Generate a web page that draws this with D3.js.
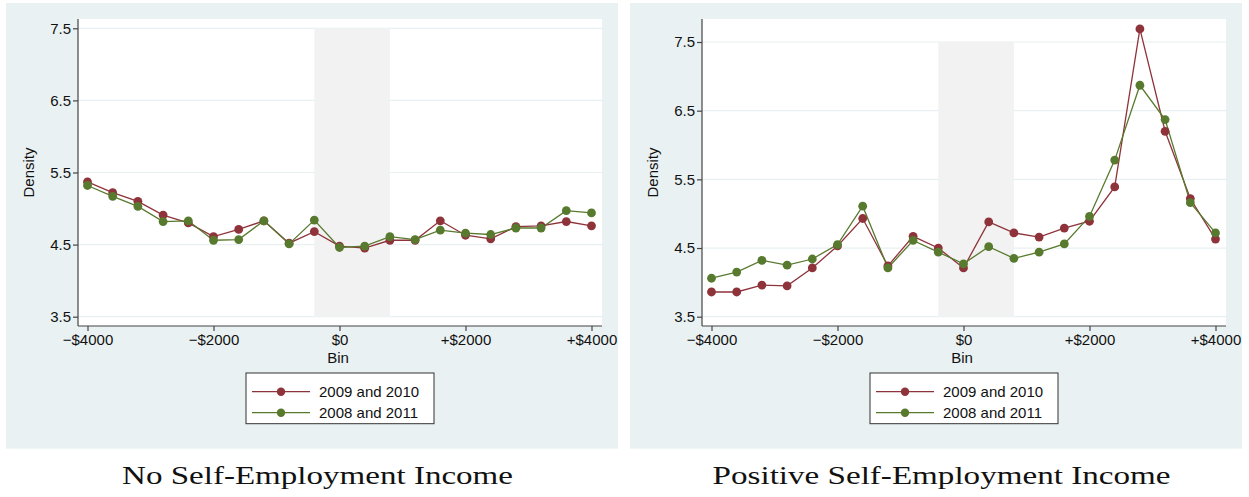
<!DOCTYPE html>
<html>
<head>
<meta charset="utf-8">
<script src="https://cdn.jsdelivr.net/npm/d3@7"></script>
<style>
  body { margin: 0; background: #fff; }
  svg text { font-family: "Liberation Sans", Arial, sans-serif; fill: #111; }
  .caption { font-family: "Liberation Serif", "DejaVu Serif", serif; }
</style>
</head>
<body>
<div id="chart"></div>
<script>
// bins, in dollars
const bins = [-4000, -3600, -3200, -2800, -2400, -2000, -1600, -1200, -800, -400,
  0, 400, 800, 1200, 1600, 2000, 2400, 2800, 3200, 3600, 4000];

const xTicks = [-4000, -2000, 0, 2000, 4000];
const xTickLabels = ['\u2212$4000', '\u2212$2000', '$0', '+$2000', '+$4000'];
const yTicks = [3.5, 4.5, 5.5, 6.5, 7.5];

// excluded window around zero
const shadeRange = [-400, 800];

const seriesNames = ['2009 and 2010', '2008 and 2011'];
const seriesColors = ['#8f333b', '#587a2e'];

// no self-employment income
const noSeTreat = [5.37, 5.22, 5.10, 4.91, 4.80, 4.61, 4.71, 4.83, 4.52, 4.68,
  4.48, 4.45, 4.56, 4.56, 4.83, 4.63, 4.58, 4.75, 4.76, 4.82, 4.76];
const noSeControl = [5.32, 5.17, 5.03, 4.82, 4.83, 4.56, 4.57, 4.83, 4.51, 4.84,
  4.46, 4.48, 4.61, 4.57, 4.70, 4.66, 4.64, 4.73, 4.73, 4.97, 4.94];

// positive self-employment income
const posSeTreat = [3.86, 3.86, 3.96, 3.95, 4.21, 4.53, 4.93, 4.24, 4.67, 4.50,
  4.21, 4.88, 4.72, 4.66, 4.79, 4.89, 5.39, 7.69, 6.20, 5.22, 4.63];
const posSeControl = [4.06, 4.15, 4.32, 4.25, 4.34, 4.55, 5.11, 4.21, 4.61, 4.44,
  4.27, 4.52, 4.35, 4.44, 4.56, 4.96, 5.78, 6.87, 6.37, 5.16, 4.72];

const captions = ['No Self-Employment Income', 'Positive Self-Employment Income'];

const W = 1249;
const H = 497;
const fontSize = '15px';

const panels = [
  {
    left: 6, caption: captions[0], captionWidth: 391,
    series: [noSeTreat, noSeControl], yTop: 28.3, yBottom: 316.7,
  },
  {
    left: 630, caption: captions[1], captionWidth: 458,
    series: [posSeTreat, posSeControl], yTop: 42, yBottom: 316.7,
  },
];

const panelW = 612;
const panelTop = 3;
const panelH = 445.7;
const plot = { left: 72, right: 596, top: 16, bottom: 323 }; // relative to panel

const svg = d3.select('#chart')
  .append('svg')
  .attr('width', W)
  .attr('height', H);

function drawPanel(p) {
  const g = svg.append('g')
    .attr('transform', `translate(${p.left},${panelTop})`);

  // outer graph region
  g.append('rect')
    .attr('width', panelW)
    .attr('height', panelH)
    .attr('fill', '#eaf1f3');

  g.append('rect')
    .attr('x', plot.left)
    .attr('y', plot.top)
    .attr('width', plot.right - plot.left)
    .attr('height', plot.bottom - plot.top)
    .attr('fill', '#fff');

  const x = d3.scaleLinear()
    .domain([-4000, 4000])
    .range([plot.left + 9.5, plot.right - 10.5]);

  // 3.5 and 7.5 sit at measured pixels
  const y = d3.scaleLinear()
    .domain([3.5, 7.5])
    .range([p.yBottom - panelTop, p.yTop - panelTop]);

  // grid
  g.append('g')
    .selectAll('line')
    .data(yTicks)
    .join('line')
    .attr('x1', plot.left)
    .attr('x2', plot.right)
    .attr('y1', (d) => y(d))
    .attr('y2', (d) => y(d))
    .attr('stroke', '#e8f0f2')
    .attr('stroke-width', 1.2);

  // shaded window
  g.append('rect')
    .attr('x', x(shadeRange[0]))
    .attr('y', y(7.5))
    .attr('width', x(shadeRange[1]) - x(shadeRange[0]))
    .attr('height', y(3.5) - y(7.5))
    .attr('fill', '#f2f2f2');

  // axes
  const yAxis = g.append('g')
    .attr('transform', `translate(${plot.left},0)`)
    .call(d3.axisLeft(y).tickValues(yTicks).tickFormat(d3.format('.1f')).tickSize(5).tickSizeOuter(0));
  yAxis.select('.domain').attr('d', `M0,${plot.top}V${plot.bottom}`);

  const xAxis = g.append('g')
    .attr('transform', `translate(0,${plot.bottom})`)
    .call(d3.axisBottom(x).tickValues(xTicks).tickFormat((d, i) => xTickLabels[i]).tickSize(5).tickSizeOuter(0));
  xAxis.select('.domain').attr('d', `M${plot.left},0H${plot.right}`);

  [xAxis, yAxis].forEach((ax) => {
    ax.selectAll('.domain, .tick line').attr('stroke', '#444').attr('stroke-width', 1.2);
    ax.selectAll('text')
      .style('font-family', '"Liberation Sans", Arial, sans-serif')
      .style('font-size', fontSize)
      .attr('fill', '#111');
  });
  xAxis.selectAll('text').attr('y', 8.5).attr('dy', '0.71em');
  yAxis.selectAll('text').attr('x', -7);

  g.append('text')
    .attr('x', (plot.left + plot.right) / 2 - 2)
    .attr('y', 362.5 - panelTop)
    .attr('text-anchor', 'middle')
    .style('font-size', fontSize)
    .text('Bin');

  g.append('text')
    .attr('transform', `translate(${29 - 6},${(plot.top + plot.bottom) / 2}) rotate(-90)`)
    .attr('text-anchor', 'middle')
    .attr('dy', '0.35em')
    .style('font-size', fontSize)
    .text('Density');

  // lines and markers
  const line = d3.line()
    .x((d, i) => x(bins[i]))
    .y((d) => y(d));

  p.series.forEach((vals, s) => {
    g.append('path')
      .datum(vals)
      .attr('d', line)
      .attr('fill', 'none')
      .attr('stroke', seriesColors[s])
      .attr('stroke-width', 1.3);
  });
  p.series.forEach((vals, s) => {
    g.append('g')
      .selectAll('circle')
      .data(vals)
      .join('circle')
      .attr('cx', (d, i) => x(bins[i]))
      .attr('cy', (d) => y(d))
      .attr('r', 4.4)
      .attr('fill', seriesColors[s]);
  });

  // legend
  const cx = (plot.left + plot.right) / 2;
  const lg = g.append('g')
    .attr('transform', `translate(${cx - 94},${373 - panelTop})`);
  lg.append('rect')
    .attr('width', 188)
    .attr('height', 50.7)
    .attr('fill', '#fff')
    .attr('stroke', '#333')
    .attr('stroke-width', 1);
  seriesNames.forEach((name, s) => {
    const ly = 18.7 + s * 21;
    lg.append('line')
      .attr('x1', 6)
      .attr('x2', 64)
      .attr('y1', ly)
      .attr('y2', ly)
      .attr('stroke', seriesColors[s])
      .attr('stroke-width', 1.3);
    lg.append('circle')
      .attr('cx', 35)
      .attr('cy', ly)
      .attr('r', 4.2)
      .attr('fill', seriesColors[s]);
    lg.append('text')
      .attr('x', 73)
      .attr('y', ly)
      .attr('dy', '0.36em')
      .style('font-size', fontSize)
      .text(name);
  });

  // caption under the panel, glyphs stretched to the measured width
  const capX = p.left + cx - 22.5;
  const cap = svg.append('g')
    .attr('transform', `translate(${capX},484)`)
    .append('text')
    .attr('class', 'caption')
    .attr('text-anchor', 'middle')
    .style('font-size', '25px')
    .text(p.caption);
  const natural = cap.node().getComputedTextLength();
  cap.attr('transform', `scale(${p.captionWidth / natural},1)`);
}

panels.forEach(drawPanel);
</script>
</body>
</html>
